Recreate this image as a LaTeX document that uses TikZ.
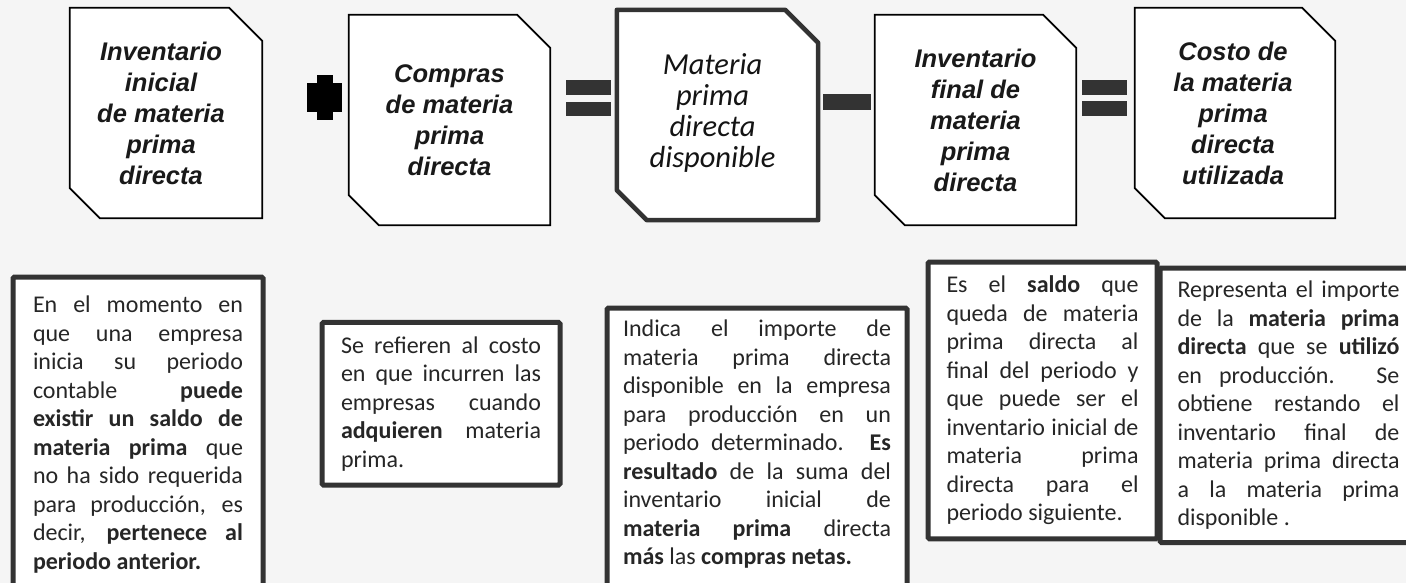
\documentclass[tikz,border=0pt]{standalone}
\usepackage{fontspec}
\setmainfont{Carlito}
\newfontfamily\headfont{Liberation Sans}
\usetikzlibrary{positioning}
\tolerance=10000
\hbadness=10000

\definecolor{paper}{HTML}{F5F5F5}
\definecolor{edge}{HTML}{333333}
\definecolor{ink}{HTML}{262626}

% outline with the north east and south west corners cut off
\newcommand{\snipframe}[2]{%
  \filldraw[#2] ([xshift=-33pt]#1.north east) -- ([yshift=-33pt]#1.north east)
    -- (#1.south east) -- ([xshift=30pt]#1.south west)
    -- ([yshift=30pt]#1.south west) -- (#1.north west) -- cycle;}

\begin{document}
\begin{tikzpicture}[x=1pt, y=-1pt,
    every node/.style={inner sep=0pt},
    spot/.style={minimum width=201pt, minimum height=210pt},
    thin frame/.style={draw=black, line width=1.8pt, fill=white},
    thick frame/.style={draw=edge, line width=4.5pt, fill=white, line join=round},
    head/.style={align=center, text=black!90, font=\headfont\bfseries\itshape\fontsize{25.5}{31}\selectfont},
    midhead/.style={align=center, text=black!92, font=\itshape\fontsize{30.5}{31}\selectfont},
    sign/.style={fill=edge},
    note/.style={draw=edge, line width=5pt, fill=white, rounded corners=1.5pt, anchor=north west,
      align=justify, text=ink, font=\fontsize{24}{28.5}\selectfont, inner xsep=19pt, inner ysep=14pt}]
    \useasboundingbox (0,0) rectangle (1406,583);
    \fill[paper] (0,0) rectangle (1406,583);
    \clip (0,0) rectangle (1406,583);

    % top row
    \node[spot, minimum width=192pt](invini) at (166,113) {};
    \snipframe{invini}{thin frame}
    \node[head](invini_t) at ([xshift=-5pt]invini.center) {Inventario\\inicial\\de materia\\prima\\directa};

    \node[spot](compras) at (449.5,120) {};
    \snipframe{compras}{thin frame}
    \node[head](compras_t) at (compras) {Compras\\de materia\\prima\\directa};

    \node[spot](dispo) at (717.5,115) {};
    \snipframe{dispo}{thick frame}
    \node[midhead](dispo_t) at ([xshift=-5pt, yshift=2pt]dispo.center) {Materia\\prima\\directa\\disponible};

    \node[spot](invfin) at (975.5,120) {};
    \snipframe{invfin}{thin frame}
    \node[head](invfin_t) at (invfin) {Inventario\\final de\\materia\\prima\\directa};

    \node[spot, minimum width=200pt](costo) at (1235,113) {};
    \snipframe{costo}{thin frame}
    \node[head](costo_t) at ([xshift=-2pt]costo.center) {Costo de\\la materia\\prima\\directa\\utilizada};

    % signs between the boxes
    \fill (316.7,75) rectangle (333.3,120);
    \fill (306.7,83) rectangle (341.7,112);
    \fill[sign] (566,80) rectangle (611,95);
    \fill[sign] (566,102) rectangle (611,116);
    \fill[sign] (823,94) rectangle (871,110);
    \fill[sign] (1082,80) rectangle (1127,95);
    \fill[sign] (1082,101) rectangle (1127,116);

    % bottom row
    \node[note, text width=210pt, inner xsep=20pt, inner ysep=19pt, text depth=330pt](invini_n) at (10.5,274.5)
      {En el momento en\linebreak que una empresa\linebreak inicia su periodo\linebreak contable \textbf{puede}\linebreak
       \textbf{existir un saldo de}\linebreak \textbf{materia prima} que\linebreak no ha sido requerida\linebreak
       para producción, es\linebreak decir, \textbf{pertenece al}\linebreak \textbf{periodo anterior.}};

    \node[note, anchor=south west, text width=200pt](compras_n) at (319.5,487.5)
      {Se refieren al costo\linebreak en que incurren las\linebreak empresas cuando\linebreak
       \textbf{adquieren} materia\linebreak prima.};

    \node[note, text width=268pt, inner xsep=16pt, inner ysep=12pt, text depth=300pt](dispo_n) at (604.5,305.5)
      {Indica el importe de\linebreak materia prima directa\linebreak disponible en la empresa\linebreak
       para producción en un\linebreak periodo determinado. \textbf{Es}\linebreak \textbf{resultado} de la suma del\linebreak
       inventario inicial de\linebreak \textbf{materia prima} directa\linebreak \textbf{más} las \textbf{compras netas.}};

    \node[note, text width=192pt, inner xsep=18.5pt](invfin_n) at (925.5,259.5)
      {Es el \textbf{saldo} que\linebreak queda de materia\linebreak prima directa al\linebreak final del periodo y\linebreak
       que puede ser el\linebreak inventario inicial de\linebreak materia prima\linebreak directa para el\linebreak
       periodo siguiente.};

    \node[note, text width=222pt, inner xsep=17.5pt, inner ysep=13pt](costo_n) at (1157.5,265.5)
      {Representa el importe\linebreak de la \textbf{materia prima}\linebreak \textbf{directa} que se \textbf{utilizó}\linebreak
       en producción. Se\linebreak obtiene restando el\linebreak inventario final de\linebreak
       materia prima directa\linebreak a la materia prima\linebreak disponible .};
\end{tikzpicture}
\end{document}
